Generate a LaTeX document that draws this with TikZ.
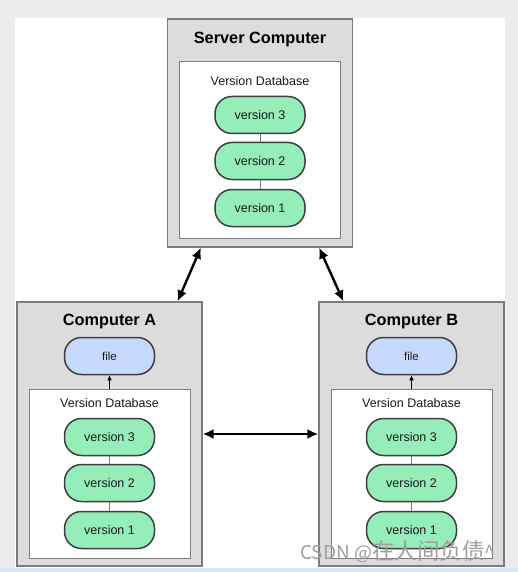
\documentclass[tikz,border=0pt]{standalone}
\usepackage{fontspec}
\setmainfont{Liberation Sans}
\newfontfamily\cjkfont{Noto Sans CJK SC}
\usetikzlibrary{arrows.meta}
\definecolor{boxgray}{HTML}{DCDCDC}
\definecolor{edgegray}{HTML}{7C7C7C}
\definecolor{versiongreen}{HTML}{95EDB9}
\definecolor{fileblue}{HTML}{C6D8FB}
\definecolor{pilledge}{HTML}{3F3F3F}
\definecolor{framegray}{HTML}{ECECEC}
\definecolor{stripblue}{HTML}{D7E9F2}
\begin{document}
\begin{tikzpicture}[x=1pt,y=-1pt,
    computer/.style={draw=edgegray,fill=boxgray,line width=1.2pt,minimum width=185pt,inner sep=0pt},
    database/.style={draw=edgegray,fill=white,line width=1pt,minimum width=161pt,inner sep=0pt},
    pill/.style={draw=pilledge,line width=1.5pt,rounded corners=17pt,minimum width=90pt,
      minimum height=37pt,inner sep=0pt,text=black!90,font=\fontsize{12.5}{14}\selectfont},
    version/.style={pill,fill=versiongreen},
    filepill/.style={pill,fill=fileblue,font=\fontsize{11.5}{13}\selectfont},
    title/.style={font=\fontsize{16.3}{18}\selectfont\bfseries},
    dblabel/.style={text=black!90,font=\fontsize{12.5}{14}\selectfont},
    link/.style={draw=edgegray,line width=0.8pt},
    sync/.style={{Latex[length=11pt,width=10pt]}-{Latex[length=11pt,width=10pt]},line width=2.4pt}]
  % screenshot frame
  \fill[framegray] (0,0) rectangle (518,572);
  \fill[white] (15,18) rectangle (505,568);
  \fill[stripblue] (0,568) rectangle (518,572);

  % server
  \node[computer,minimum height=228pt] (server) at (260,133) {};
  \node[title] (servertitle) at (260,40) {Server Computer};
  \node[database,minimum height=176pt] (serverdb) at (260,150) {};
  \node[dblabel] (serverdblabel) at (260,81) {Version Database};
  \node[version] (serverv3) at (260,115) {version 3};
  \node[version] (serverv2) at (260,161) {version 2};
  \node[version] (serverv1) at (260,208) {version 1};
  \draw[link] (serverv3) -- (serverv2);
  \draw[link] (serverv2) -- (serverv1);

  % clients
  \foreach \name/\cx/\letter in {compA/109.5/A, compB/411.5/B} {
    \node[computer,minimum height=264pt] (\name) at (\cx,434) {};
    \node[title] (\name title) at (\cx,321) {Computer \letter};
    \node[filepill] (\name file) at (\cx,356) {file};
    \node[database,minimum height=169pt] (\name db) at (\cx,473.5) {};
    \node[dblabel] (\name dblabel) at (\cx,403) {Version Database};
    \node[version] (\name v3) at (\cx,437) {version 3};
    \node[version] (\name v2) at (\cx,483) {version 2};
    \node[version] (\name v1) at (\cx,530) {version 1};
    \draw[link] (\name v3) -- (\name v2);
    \draw[link] (\name v2) -- (\name v1);
    \draw[-{Latex[length=5pt,width=4.5pt]},line width=0.8pt] (\name db.north) -- (\name file.south);
  }

  \begin{scope}[sync]
    \draw ([xshift=34pt]server.south west) -- ([xshift=-25pt]compA.north east);
    \draw ([xshift=-34pt]server.south east) -- ([xshift=25pt]compB.north west);
    \draw (compA) -- (compB);
  \end{scope}

  \node[anchor=base west,inner sep=0pt,text=gray!75,font=\cjkfont\fontsize{19}{21}\selectfont]
    (watermark) at (300,559) {CSDN @{\fontsize{22.5}{24}\selectfont 在人间负债}\textasciicircum};
\end{tikzpicture}
\end{document}
